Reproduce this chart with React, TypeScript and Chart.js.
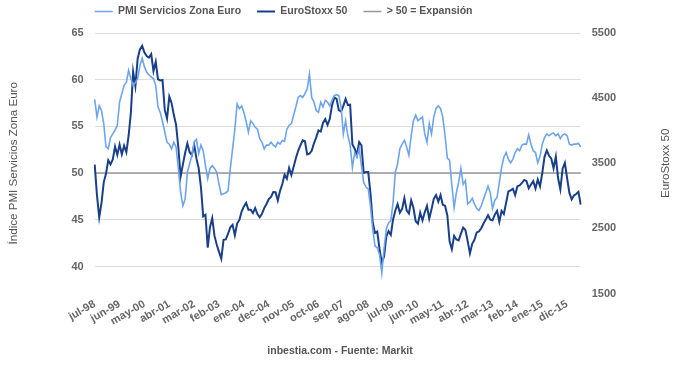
import React, { useEffect, useRef } from "react";
import { Chart, registerables } from "chart.js";

Chart.register(...registerables);

const FONT = "'Liberation Sans', Arial, Helvetica, sans-serif";

const MONTHS = ["ene", "feb", "mar", "abr", "may", "jun", "jul", "ago", "sep", "oct", "nov", "dic"];
const START_YEAR = 1998;
const START_MONTH = 6; // julio

// PMI Servicios Zona Euro (monthly, jul-98 .. jun-16)
const pmiServicios = [
  57.9, 56.0, 57.2, 56.7, 55.3, 52.8, 52.6, 53.8, 54.2, 54.6,
  55.1, 57.6, 58.5, 59.4, 59.7, 61.0, 60.1, 59.4, 59.7, 60.1,
  61.5, 62.3, 61.4, 60.8, 60.5, 60.3, 60.1, 59.4, 57.1, 56.5,
  55.5, 54.4, 53.3, 53.1, 52.6, 53.3, 52.8, 50.5, 48.0, 46.5,
  47.2, 50.1, 51.0, 51.9, 53.3, 53.6, 52.1, 53.0, 52.4, 50.8,
  49.4, 50.5, 50.8, 50.5, 50.1, 48.8, 47.7, 47.8, 47.9, 48.1,
  50.5, 52.6, 54.7, 57.4, 56.9, 57.2, 56.5, 55.5, 54.4, 55.6,
  55.3, 54.9, 54.7, 53.7, 53.3, 52.6, 53.0, 53.0, 53.3, 53.0,
  52.8, 53.3, 53.1, 53.5, 53.4, 54.7, 55.1, 55.3, 56.2, 57.1,
  58.1, 58.3, 58.1, 58.5, 59.0, 60.6, 58.1, 57.6, 56.7, 56.5,
  57.6, 57.1, 57.8, 57.6, 57.2, 57.8, 58.3, 58.4, 58.3, 57.1,
  54.2, 55.6, 54.0, 53.0, 50.6, 52.2, 51.7, 52.6, 50.8, 49.0,
  48.5, 48.3, 46.5, 44.0, 42.2, 42.0, 41.3, 39.3, 41.9, 44.0,
  44.7, 44.9, 46.9, 50.1, 51.0, 52.6, 53.1, 53.5, 52.8, 51.9,
  54.0, 55.6, 56.2, 55.6, 55.8, 56.0, 54.2, 53.3, 55.3, 54.2,
  56.0, 56.9, 57.2, 56.9, 56.0, 54.0, 51.6, 51.4, 48.7, 46.3,
  47.9, 49.0, 50.5, 48.8, 49.2, 46.7, 46.9, 47.3, 46.7, 46.2,
  46.0, 46.5, 47.2, 47.9, 48.6, 47.9, 46.2, 47.1, 47.4, 49.0,
  50.6, 51.7, 52.2, 51.5, 51.1, 51.5, 52.2, 52.6, 52.4, 53.0,
  53.1, 53.1, 54.1, 53.1, 52.4, 52.2, 51.1, 51.8, 53.1, 53.8,
  54.2, 54.0, 54.2, 54.3, 54.0, 54.2, 53.7, 54.1, 54.2, 54.0,
  53.1, 53.0, 53.1, 53.1, 53.2, 52.8,
];

// EuroStoxx 50 (monthly close, jul-98 .. jun-16)
const euroStoxx50 = [
  3480, 3010, 2670, 2888, 3208, 3342,
  3547, 3484, 3559, 3757, 3629, 3788, 3638, 3770, 3669, 3923, 4275, 4904,
  4684, 5105, 5249, 5303, 5200, 5145, 5122, 5176, 4915, 5058, 4790, 4772,
  4780, 4319, 4185, 4526, 4427, 4244, 4091, 3744, 3297, 3479, 3658, 3806,
  3670, 3625, 3784, 3575, 3426, 3133, 2685, 2710, 2204, 2519, 2657, 2386,
  2249, 2141, 2036, 2325, 2331, 2419, 2519, 2557, 2395, 2575, 2631, 2760,
  2839, 2893, 2787, 2787, 2736, 2811, 2720, 2671, 2726, 2812, 2876, 2951,
  2984, 3058, 3056, 2930, 3077, 3182, 3326, 3263, 3429, 3320, 3448, 3579,
  3692, 3775, 3854, 3839, 3637, 3649, 3692, 3808, 3899, 4004, 3987, 4120,
  4178, 4088, 4182, 4392, 4512, 4489, 4315, 4294, 4382, 4489, 4395, 4400,
  3792, 3724, 3629, 3826, 3777, 3353, 3367, 3366, 3038, 2592, 2431, 2451,
  2185, 1976, 2071, 2375, 2459, 2401, 2638, 2775, 2873, 2743, 2800, 2966,
  2776, 2728, 2931, 2817, 2610, 2574, 2742, 2623, 2748, 2845, 2651, 2793,
  2954, 3013, 2911, 3011, 2862, 2849, 2700, 2302, 2180, 2385, 2330, 2317,
  2417, 2512, 2477, 2306, 2118, 2265, 2325, 2440, 2455, 2503, 2575, 2636,
  2703, 2634, 2624, 2712, 2770, 2603, 2768, 2721, 2893, 3068, 3086, 3109,
  3013, 3149, 3162, 3198, 3245, 3228, 3116, 3173, 3226, 3114, 3251, 3146,
  3351, 3599, 3697, 3616, 3571, 3424, 3601, 3270, 3101, 3418, 3506, 3268,
  3045, 2946, 3005, 3028, 3063, 2865,
];

const categories = pmiServicios.map((_, i) => {
  const m = START_MONTH + i;
  const y = (START_YEAR + Math.floor(m / 12)) % 100;
  return `${MONTHS[m % 12]}-${String(y).padStart(2, "0")}`;
});

const xTickLabels = [
  "jul-98", "jun-99", "may-00", "abr-01", "mar-02", "feb-03", "ene-04", "dec-04", "nov-05", "oct-06",
  "sep-07", "ago-08", "jul-09", "jun-10", "may-11", "abr-12", "mar-13", "feb-14", "ene-15", "dic-15",
];
const X_TICK_EVERY = 11;

const leftTicks = [40, 45, 50, 55, 60, 65];
const rightTicks = [1500, 2500, 3500, 4500, 5500];
const EXPANSION_LEVEL = 50;

const LEFT_TITLE = "Índice PMI Servicios Zona Euro";
const RIGHT_TITLE = "EuroStoxx 50";
const SOURCE = "inbestia.com - Fuente: Markit";

const LEGEND_PAD = 16;

const tweaks = {
  id: "tweaks",
  beforeLayout(chart: any) {
    const lg = chart.legend;
    if (lg && !lg.__patched) {
      const fit = lg.fit;
      lg.fit = function () {
        fit.call(this);
        this.height = 33;
      };
      lg.__patched = true;
    }
  },
  afterLayout(chart: any) {
    const lg = chart.legend;
    if (lg) {
      lg.left = chart.chartArea.left - LEGEND_PAD;
      lg.top = 11.5 - LEGEND_PAD - 5.25;
    }
  },
  afterDraw(chart: any) {
    const { ctx, chartArea } = chart;
    const cy = (chartArea.top + chartArea.bottom) / 2;
    const drawTitle = (text: string, x: number) => {
      ctx.save();
      ctx.fillStyle = "#555";
      ctx.font = `11.6px ${FONT}`;
      ctx.textAlign = "center";
      ctx.textBaseline = "middle";
      ctx.translate(x, cy);
      ctx.rotate(-Math.PI / 2);
      ctx.fillText(text, 0, 0);
      ctx.restore();
    };
    drawTitle(LEFT_TITLE, 14);
    drawTitle(RIGHT_TITLE, 666);
  },
};

export default function App() {
  const ref = useRef<HTMLCanvasElement | null>(null);

  useEffect(() => {
    if (!ref.current) return;
    const tickFont = { family: FONT, size: 11, weight: "bold" as const };
    const chart = new Chart(ref.current, {
      type: "line",
      data: {
        labels: categories,
        datasets: [
          {
            label: "PMI Servicios Zona Euro",
            data: pmiServicios,
            borderColor: "#6ea4ec",
            backgroundColor: "#6ea4ec",
            borderWidth: 1.6,
            pointRadius: 0,
            tension: 0,
            yAxisID: "y",
          },
          {
            label: "EuroStoxx 50",
            data: euroStoxx50,
            borderColor: "#183f88",
            backgroundColor: "#183f88",
            borderWidth: 2,
            pointRadius: 0,
            tension: 0,
            yAxisID: "y1",
          },
          {
            label: "> 50 = Expansión",
            data: [
              { x: categories[0], y: EXPANSION_LEVEL },
              { x: categories[categories.length - 1], y: EXPANSION_LEVEL },
            ] as any,
            borderColor: "#999999",
            backgroundColor: "#999999",
            borderWidth: 1.5,
            pointRadius: 0,
            yAxisID: "y",
          },
        ],
      },
      options: {
        animation: false,
        responsive: false,
        maintainAspectRatio: false,
        devicePixelRatio: 1,
        layout: { padding: 0 },
        plugins: {
          legend: {
            position: "top",
            align: "start",
            labels: {
              usePointStyle: true,
              pointStyle: "line",
              pointStyleWidth: 18,
              padding: LEGEND_PAD,
              color: "#555",
              font: { family: FONT, size: 10.5, weight: "bold" },
            },
          },
          title: {
            display: true,
            text: SOURCE,
            position: "bottom",
            color: "#555",
            font: { family: FONT, size: 10.5, weight: "bold" },
            padding: { top: 5, bottom: 10 },
          },
          tooltip: { enabled: false },
        },
        scales: {
          x: {
            type: "category",
            offset: false,
            grid: { display: false, drawTicks: false },
            border: { display: false },
            ticks: {
              autoSkip: false,
              minRotation: 30,
              maxRotation: 30,
              padding: 4,
              color: "#666",
              font: tickFont,
              callback: (_v: any, i: number) =>
                i % X_TICK_EVERY === 0 ? xTickLabels[i / X_TICK_EVERY] ?? null : null,
            },
            afterFit: (s: any) => {
              s.height = 45.8;
            },
          },
          y: {
            position: "left",
            min: 37.1,
            max: 65,
            afterBuildTicks: (s: any) => {
              s.ticks = leftTicks.map((v) => ({ value: v }));
            },
            grid: { color: "#dcdcdc", lineWidth: 1, drawTicks: false },
            border: { display: false },
            ticks: { padding: 11, color: "#666", font: tickFont, callback: (v: any) => String(v) },
            afterFit: (s: any) => {
              s.width = 94.7;
            },
          },
          y1: {
            position: "right",
            min: 1500,
            max: 5500,
            afterBuildTicks: (s: any) => {
              s.ticks = rightTicks.map((v) => ({ value: v }));
            },
            grid: { display: false, drawTicks: false },
            border: { display: false },
            ticks: { padding: 11, color: "#666", font: tickFont, callback: (v: any) => String(v) },
            afterFit: (s: any) => {
              s.width = 680 - 580.7;
            },
          },
        },
      },
      plugins: [tweaks],
    });
    return () => chart.destroy();
  }, []);

  return (
    <div style={{ position: "absolute", left: 0, top: 0, width: 680, height: 367, background: "#fff" }}>
      <canvas ref={ref} width={680} height={367} style={{ width: 680, height: 367, display: "block" }} />
    </div>
  );
}
